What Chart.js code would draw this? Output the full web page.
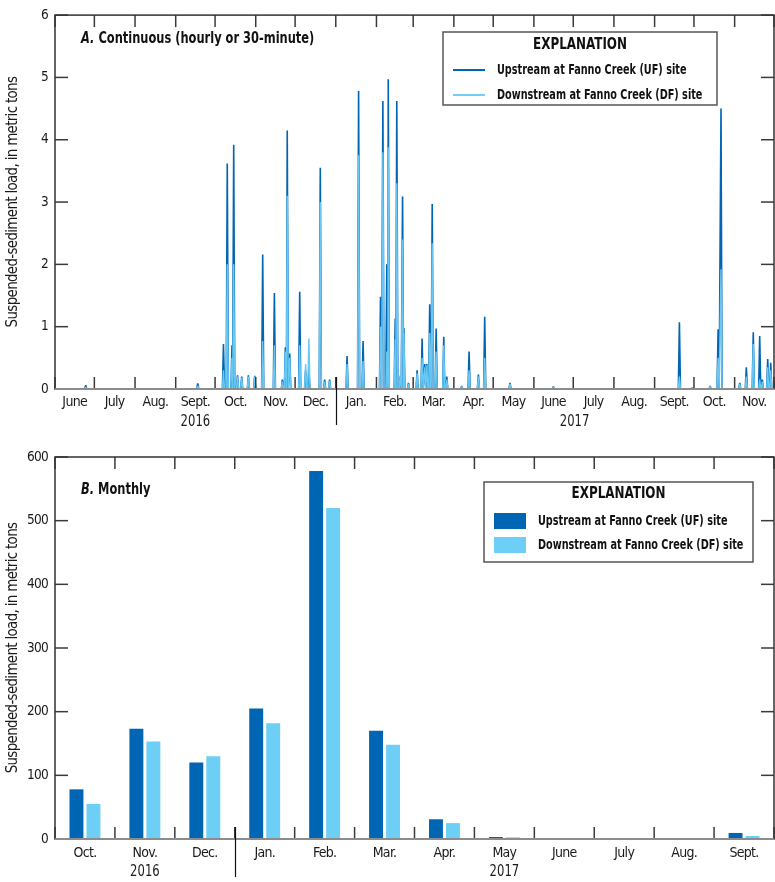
<!DOCTYPE html>
<html>
<head>
<meta charset="utf-8">
<title>Suspended-sediment load, Fanno Creek</title>
<script src="https://cdn.jsdelivr.net/npm/chart.js@4.4.1/dist/chart.umd.min.js"></script>
<style>
    body { margin: 0; background: #fff; }
    canvas { display: block; }
</style>
</head>
<body>
<canvas id="continuousChart" width="775" height="430"></canvas>
<canvas id="monthlyChart" width="775" height="452"></canvas>
<script>
// ---- panel A: continuous loads, x = days since 1 June 2016 ----
var monthNames = ["June", "July", "Aug.", "Sept.", "Oct.", "Nov.", "Dec.", "Jan.", "Feb.", "Mar.",
    "Apr.", "May", "June", "July", "Aug.", "Sept.", "Oct.", "Nov."];
var monthDays = [30, 31, 31, 30, 31, 30, 31, 31, 28, 31, 30, 31, 30, 31, 31, 30, 31, 30];

var stormDays = [23.4, 108.8, 128.4, 131.3, 134.9, 136.2, 139.1, 142.3, 147.4, 152.2,
    158.3, 167.2, 173.3, 175.6, 177, 178.9, 186.5, 191, 193.5, 202.2,
    205.5, 209.3, 222.6, 231.4, 234.8, 248.1, 249.9, 252.9, 254, 259.3,
    260.5, 263.1, 264.9, 265.9, 269.4, 276, 279.8, 281.8, 283.4, 285.6,
    287.5, 290.5, 296.3, 298.6, 310, 315.6, 322.7, 327.5, 346.8, 379.8,
    475.9, 485.8, 499.3, 505.4, 507.6, 521.9, 526.9, 532.2, 537.1, 539.1,
    543.2, 545.5];
var ufPeaks = [0.06, 0.09, 0.72, 3.62, 0.7, 3.92, 0.22, 0.2, 0.22, 0.21,
    2.16, 1.54, 0.15, 0.67, 4.15, 0.57, 1.56, 0.3, 0.3, 3.55,
    0.15, 0.15, 0.53, 4.78, 0.77, 1.48, 4.62, 2.0, 4.97, 1.13,
    4.62, 0.2, 3.09, 0.98, 0.1, 0.3, 0.81, 0.4, 0.4, 1.36,
    2.97, 0.97, 0.84, 0.2, 0.05, 0.6, 0.23, 1.16, 0.1, 0.04,
    1.07, 0.02, 0.05, 0.96, 4.5, 0.1, 0.35, 0.91, 0.85, 0.15,
    0.48, 0.42];
var dfPeaks = [0.03, 0.05, 0.3, 2.0, 0.5, 2.0, 0.2, 0.18, 0.2, 0.2,
    0.77, 0.7, 0.12, 0.6, 3.1, 0.5, 0.7, 0.4, 0.81, 3.0,
    0.12, 0.13, 0.4, 3.75, 0.45, 1.0, 3.8, 0.6, 3.88, 0.8,
    3.3, 0.22, 2.4, 0.9, 0.08, 0.25, 0.5, 0.35, 0.38, 0.9,
    2.34, 0.6, 0.7, 0.15, 0.04, 0.3, 0.2, 0.5, 0.08, 0.03,
    0.2, 0.02, 0.04, 0.5, 1.92, 0.08, 0.2, 0.72, 0.15, 0.12,
    0.35, 0.3];

// ---- panel B: monthly loads ----
var barMonths = ["Oct.", "Nov.", "Dec.", "Jan.", "Feb.", "Mar.", "Apr.", "May", "June", "July", "Aug.", "Sept."];
var ufMonthly = [78, 173, 120, 205, 578, 170, 31, 3.1, 1, 0.4, 0.3, 9.5];
var dfMonthly = [55, 153, 130, 182, 520, 148, 25, 2.6, 1.3, 0.3, 0.2, 4.7];

var ufName = "Upstream at Fanno Creek (UF) site";
var dfName = "Downstream at Fanno Creek (DF) site";
var ufColor = "#0065b2";
var dfColor = "#6dcff6";

var FONT = "'Liberation Sans Narrow', 'DejaVu Sans Condensed', 'Roboto', sans-serif";
Chart.defaults.font.family = FONT;
Chart.defaults.color = "#1a1a1a";

// month boundaries (day numbers) and mid points for the labels
var bounds = [0];
monthDays.forEach(function (n, i) { bounds.push(bounds[i] + n); });
var mids = monthDays.map(function (n, i) { return bounds[i] + n / 2; });

function spikes(peaks) {
    var pts = [{x: 0, y: 0}];
    stormDays.forEach(function (d, i) {
        pts.push({x: d - 0.8, y: 0}, {x: d, y: peaks[i]}, {x: d + 0.8, y: 0});
    });
    pts.push({x: bounds[bounds.length - 1], y: 0});
    return pts;
}

function line(ctx, x1, y1, x2, y2) {
    ctx.beginPath();
    ctx.moveTo(x1, y1);
    ctx.lineTo(x2, y2);
    ctx.stroke();
}

// text squeezed sideways, to look like the condensed face of the original
function narrowText(ctx, text, x, y, font, sx, align) {
    ctx.save();
    ctx.font = font;
    ctx.letterSpacing = "0px";
    ctx.textAlign = align || "left";
    ctx.textBaseline = "middle";
    ctx.translate(x, y);
    ctx.scale(sx, 1);
    ctx.fillText(text, 0, 0);
    var w = ctx.measureText(text).width * sx;
    ctx.restore();
    return w;
}

var tightPlugin = {
    id: "tight",
    beforeDraw: function (chart) {
        chart.ctx.letterSpacing = "-0.7px";
    }
};

// inward ticks, frame, year divider and year labels
var framePlugin = {
    id: "frame",
    afterDraw: function (chart, args, o) {
        var ctx = chart.ctx, a = chart.chartArea;
        var xs = chart.scales.x, ys = chart.scales.y;
        ctx.save();
        ctx.strokeStyle = "#3a3a3a";
        ctx.lineWidth = 1.5;
        o.xBounds.forEach(function (v) {
            var px = xs.getPixelForValue(v);
            line(ctx, px, a.top, px, a.top + 12);
            line(ctx, px, a.bottom, px, a.bottom - 12);
        });
        ys.ticks.forEach(function (t) {
            var py = ys.getPixelForValue(t.value);
            line(ctx, a.left, py, a.left + 13, py);
            line(ctx, a.right, py, a.right - 13, py);
        });
        ctx.strokeStyle = "#333";
        ctx.strokeRect(a.left, a.top, a.right - a.left, a.bottom - a.top);
        ctx.strokeStyle = "#8c8c8c";
        ctx.lineWidth = 2;
        line(ctx, a.left, a.bottom, a.right, a.bottom);

        ctx.strokeStyle = "#111";
        ctx.lineWidth = 1.2;
        var dx = Math.round(xs.getPixelForValue(o.divider)) + 0.5;
        line(ctx, dx, a.bottom - 12, dx, a.bottom + o.dividerLen);

        ctx.fillStyle = "#1a1a1a";
        o.years.forEach(function (y) {
            narrowText(ctx, y.text, xs.getPixelForValue(y.at), a.bottom + o.yearOffset, "15px " + FONT, 0.86, "center");
        });
        ctx.restore();
    }
};

// "EXPLANATION" box and the panel letter
var explainPlugin = {
    id: "explain",
    afterDraw: function (chart, args, o) {
        var ctx = chart.ctx, b = o.box;
        ctx.save();
        ctx.fillStyle = "#fff";
        ctx.fillRect(b[0], b[1], b[2] - b[0], b[3] - b[1]);
        ctx.strokeStyle = "#555";
        ctx.lineWidth = 1.5;
        ctx.strokeRect(b[0], b[1], b[2] - b[0], b[3] - b[1]);

        ctx.fillStyle = "#111";
        narrowText(ctx, "EXPLANATION", (b[0] + b[2]) / 2, b[1] + o.titleDy, "bold 16px " + FONT, 0.83, "center");

        chart.data.datasets.forEach(function (ds, i) {
            var yy = b[1] + o.rowY[i];
            if (o.kind === "line") {
                ctx.strokeStyle = ds.borderColor;
                ctx.lineWidth = ds.borderWidth + 0.4;
                line(ctx, b[0] + 10, yy, b[0] + 42, yy);
            } else {
                ctx.fillStyle = ds.backgroundColor;
                ctx.fillRect(b[0] + 10, yy - 8, 32, 16);
            }
            ctx.fillStyle = "#111";
            narrowText(ctx, ds.label, b[0] + 54, yy, "bold 14px " + FONT, 0.77);
        });

        // panel letter, e.g. "A. Continuous ..."
        var w = narrowText(ctx, o.letter + " ", o.titleAt[0], o.titleAt[1], "italic bold 15.5px " + FONT, 0.82);
        narrowText(ctx, o.title, o.titleAt[0] + w, o.titleAt[1], "bold 15.5px " + FONT, 0.82);
        ctx.restore();
    }
};

function yAxis(max, step) {
    return {
        min: 0, max: max,
        ticks: {stepSize: step, padding: 7, font: {size: 13.5}, color: "#1a1a1a"},
        grid: {display: false, drawTicks: false},
        border: {display: false},
        title: {display: true, text: "Suspended-sediment load, in metric tons",
            font: {size: 15}, color: "#1a1a1a", padding: {top: 4, bottom: 0}},
        afterFit: function (s) { s.width = 55; }
    };
}

new Chart("continuousChart", {
    type: "line",
    data: {
        datasets: [{
                label: ufName,
                data: spikes(ufPeaks),
                borderColor: ufColor,
                borderWidth: 1.6,
                order: 2
            }, {
                label: dfName,
                data: spikes(dfPeaks),
                borderColor: "#66c8f3",
                borderWidth: 1.4,
                order: 1
            }]
    },
    options: {
        responsive: false,
        animation: false,
        events: [],
        layout: {autoPadding: false, padding: {top: 7, right: 1, left: 0, bottom: 0}},
        elements: {point: {radius: 0}, line: {tension: 0, borderJoinStyle: "bevel"}},
        scales: {
            x: {
                type: "linear",
                min: 0, max: bounds[bounds.length - 1],
                afterBuildTicks: function (s) {
                    s.ticks = mids.map(function (v) { return {value: v}; });
                },
                ticks: {
                    autoSkip: false, maxRotation: 0, padding: 5, font: {size: 14}, color: "#1a1a1a",
                    callback: function (v, i) { return monthNames[i]; }
                },
                grid: {display: false, drawTicks: false},
                border: {display: false},
                afterFit: function (s) { s.height = 41; }
            },
            y: yAxis(6, 1)
        },
        plugins: {
            legend: {display: false},
            tooltip: {enabled: false},
            frame: {xBounds: bounds, divider: 214, dividerLen: 36, yearOffset: 33,
                years: [{text: "2016", at: 107}, {text: "2017", at: 396}]},
            explain: {kind: "line", box: [443, 32, 717, 105], titleDy: 13, rowY: [38, 63],
                letter: "A.", title: "Continuous (hourly or 30-minute)", titleAt: [81, 39]}
        }
    },
    plugins: [tightPlugin, framePlugin, explainPlugin]
});

new Chart("monthlyChart", {
    type: "bar",
    data: {
        labels: barMonths,
        datasets: [{
                label: ufName,
                data: ufMonthly,
                backgroundColor: ufColor,
                categoryPercentage: 0.567,
                barPercentage: 0.82
            }, {
                label: dfName,
                data: dfMonthly,
                backgroundColor: dfColor,
                categoryPercentage: 0.567,
                barPercentage: 0.82
            }]
    },
    options: {
        responsive: false,
        animation: false,
        events: [],
        layout: {autoPadding: false, padding: {top: 27, right: 1, left: 0, bottom: 0}},
        scales: {
            x: {
                ticks: {padding: 6, font: {size: 14}, color: "#1a1a1a", maxRotation: 0, autoSkip: false},
                grid: {display: false, drawTicks: false},
                border: {display: false},
                afterFit: function (s) { s.height = 43; }
            },
            y: yAxis(600, 100)
        },
        plugins: {
            legend: {display: false},
            tooltip: {enabled: false},
            frame: {xBounds: barMonths.map(function (m, i) { return i - 0.5; }).concat([barMonths.length - 0.5]),
                divider: 2.5, dividerLen: 38, yearOffset: 33,
                years: [{text: "2016", at: 1}, {text: "2017", at: 7}]},
            explain: {kind: "box", box: [484, 52, 753, 132], titleDy: 12, rowY: [39, 63],
                letter: "B.", title: "Monthly", titleAt: [81, 60]}
        }
    },
    plugins: [tightPlugin, framePlugin, explainPlugin]
});
</script>
</body>
</html>
